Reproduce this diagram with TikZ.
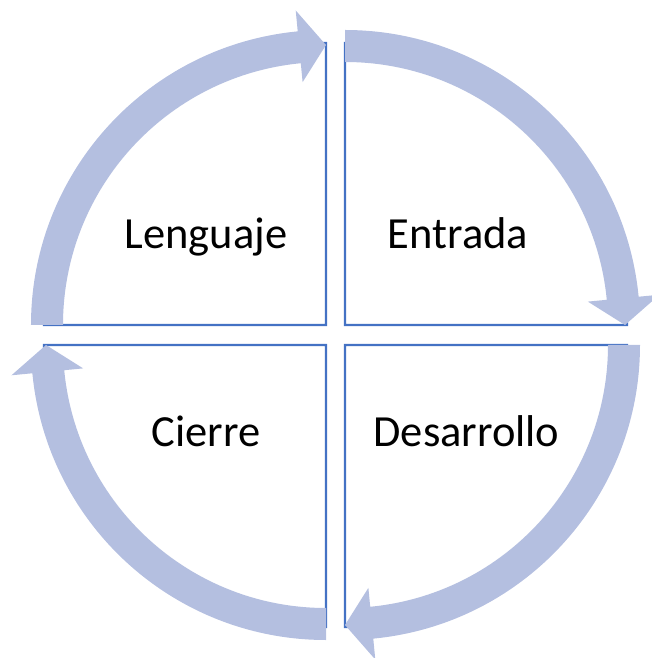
\documentclass[tikz,border=0pt]{standalone}
\usepackage{fontspec}
\setmainfont{Carlito}
\usepackage{xcolor}
\usepackage{tikz}
\usetikzlibrary{positioning}
\definecolor{quadline}{RGB}{68,114,196}
\definecolor{bandfill}{RGB}{180,191,224}

\begin{document}
\begin{tikzpicture}[x=1pt,y=1pt,
    quadrant/.style={draw=quadline,line width=2.2pt,fill=white},
    band/.style={fill=bandfill},
    label/.style={anchor=base,font=\fontsize{44.5}{52}\selectfont}]
    \useasboundingbox (-335.5,-323) rectangle (315.5,335);

    % Quadrants
    \foreach \cx/\cy/\a in {-9.5/10/90, 9.5/10/0, 9.5/-10/-90, -9.5/-10/180}
    \draw[quadrant] (\cx,\cy) -- ++(\a:282) arc[start angle=\a, delta angle=90, radius=282] -- cycle;

    % Arrows (clockwise)
    \foreach \cx/\cy/\s in {-9.5/10/180, 9.5/10/90, 9.5/-10/0, -9.5/-10/-90}
    {
      \begin{scope}[shift={(\cx,\cy)}]
        \pgfmathsetmacro{\e}{\s-90}
        \pgfmathsetmacro{\b}{\s-84.5}
        \fill[band] (\s:295) arc[start angle=\s, end angle=\b, radius=295]
          -- (\b:316) -- (\e:280) -- (\b:244) -- (\b:263)
          arc[start angle=\b, end angle=\s, radius=263] -- cycle;
      \end{scope}
    }

    % Labels
    \node[label] (lenguaje) at (-129.5,86) {Lenguaje};
    \node[label] (entrada) at (122.5,86) {Entrada};
    \node[label] (cierre) at (-129.5,-111) {Cierre};
    \node[label] (desarrollo) at (131,-111) {Desarrollo};
\end{tikzpicture}
\end{document}
